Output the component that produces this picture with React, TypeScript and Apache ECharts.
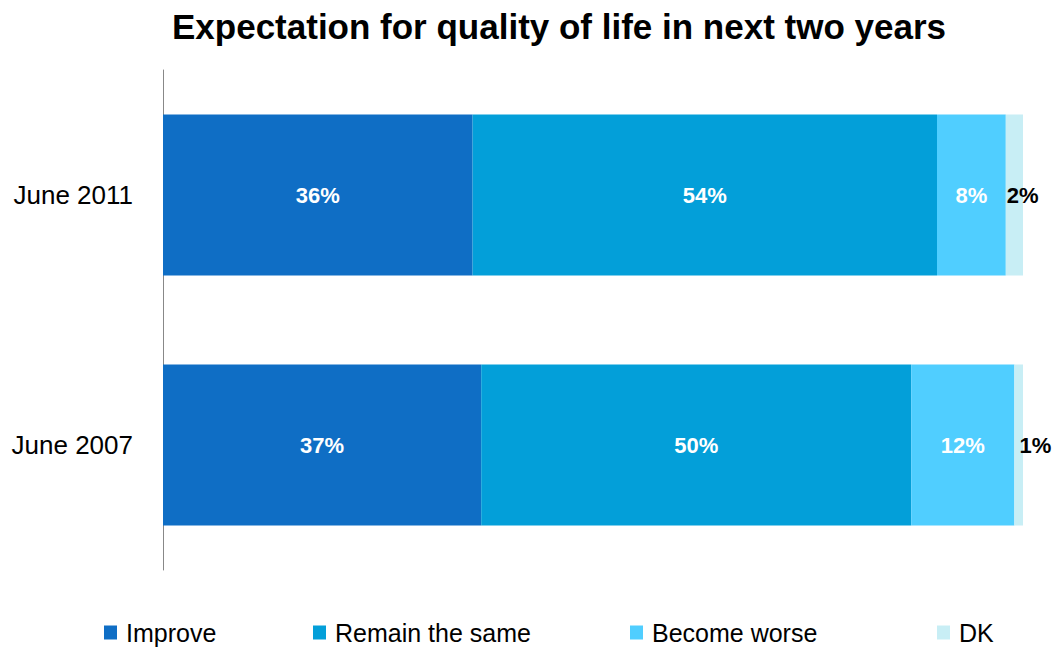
import React, { useEffect, useRef } from "react";
import * as echarts from "echarts";

const categories = ["June 2007", "June 2011"];
const seriesNames = ["Improve", "Remain the same", "Become worse", "DK"];
const improve = [37, 36];
const remain = [50, 54];
const worse = [12, 8];
const dk = [1, 2];
const seriesValues = [improve, remain, worse, dk];
const colors = ["#0F6EC5", "#039FD9", "#50CEFF", "#C8EEF5"];
const legendLeft = [99, 308, 625, 932];

const FONT = "'Liberation Sans Narrow', 'Liberation Sans', Arial, sans-serif";

export default function App() {
  const ref = useRef<HTMLDivElement>(null);
  useEffect(() => {
    if (!ref.current) return;
    const chart = echarts.init(ref.current, null, { renderer: "svg" });
    const series = seriesNames.map((name, i) => ({
      name,
      type: "bar",
      stack: "total",
      barWidth: 161,
      data: seriesValues[i].map((v, j) =>
        i === 3 ? { value: v, label: { offset: [j === 0 ? 4 : 0, 0] } } : v
      ),
      itemStyle: { color: colors[i] },
      label: {
        show: true,
        position: i === 3 ? "insideLeft" : "inside",
        distance: 1,
        formatter: "{c}%",
        color: i === 3 ? "#000" : "#fff",
        fontWeight: "bold",
        fontSize: 22,
        fontFamily: FONT,
      },
    }));
    chart.setOption({
      animation: false,
      title: {
        text: "Expectation for quality of life in next two years",
        left: 554,
        textAlign: "center",
        top: 4,
        textStyle: { fontSize: 35, fontWeight: "bold", fontFamily: FONT, color: "#000" },
      },
      legend: seriesNames.map((name, i) => ({
        data: [name],
        left: legendLeft[i],
        top: 615,
        icon: "rect",
        itemWidth: 13,
        itemHeight: 14,
        itemGap: 8,
        textStyle: { fontSize: 25, fontFamily: FONT, color: "#000", padding: [0, 0, 0, 4] },
      })),
      grid: { left: 163, right: 30, top: 70, bottom: 79 },
      xAxis: {
        type: "value",
        min: 0,
        max: 100,
        show: false,
      },
      yAxis: {
        type: "category",
        data: categories,
        axisLine: { show: true, lineStyle: { color: "#888", width: 1 } },
        axisTick: { show: false },
        axisLabel: { fontSize: 26, fontFamily: FONT, color: "#000", margin: 30 },
      },
      series,
    });
    return () => chart.dispose();
  }, []);
  return <div ref={ref} style={{ position: "fixed", left: 0, top: 0, width: 1053, height: 649, background: "#fff" }} />;
}
